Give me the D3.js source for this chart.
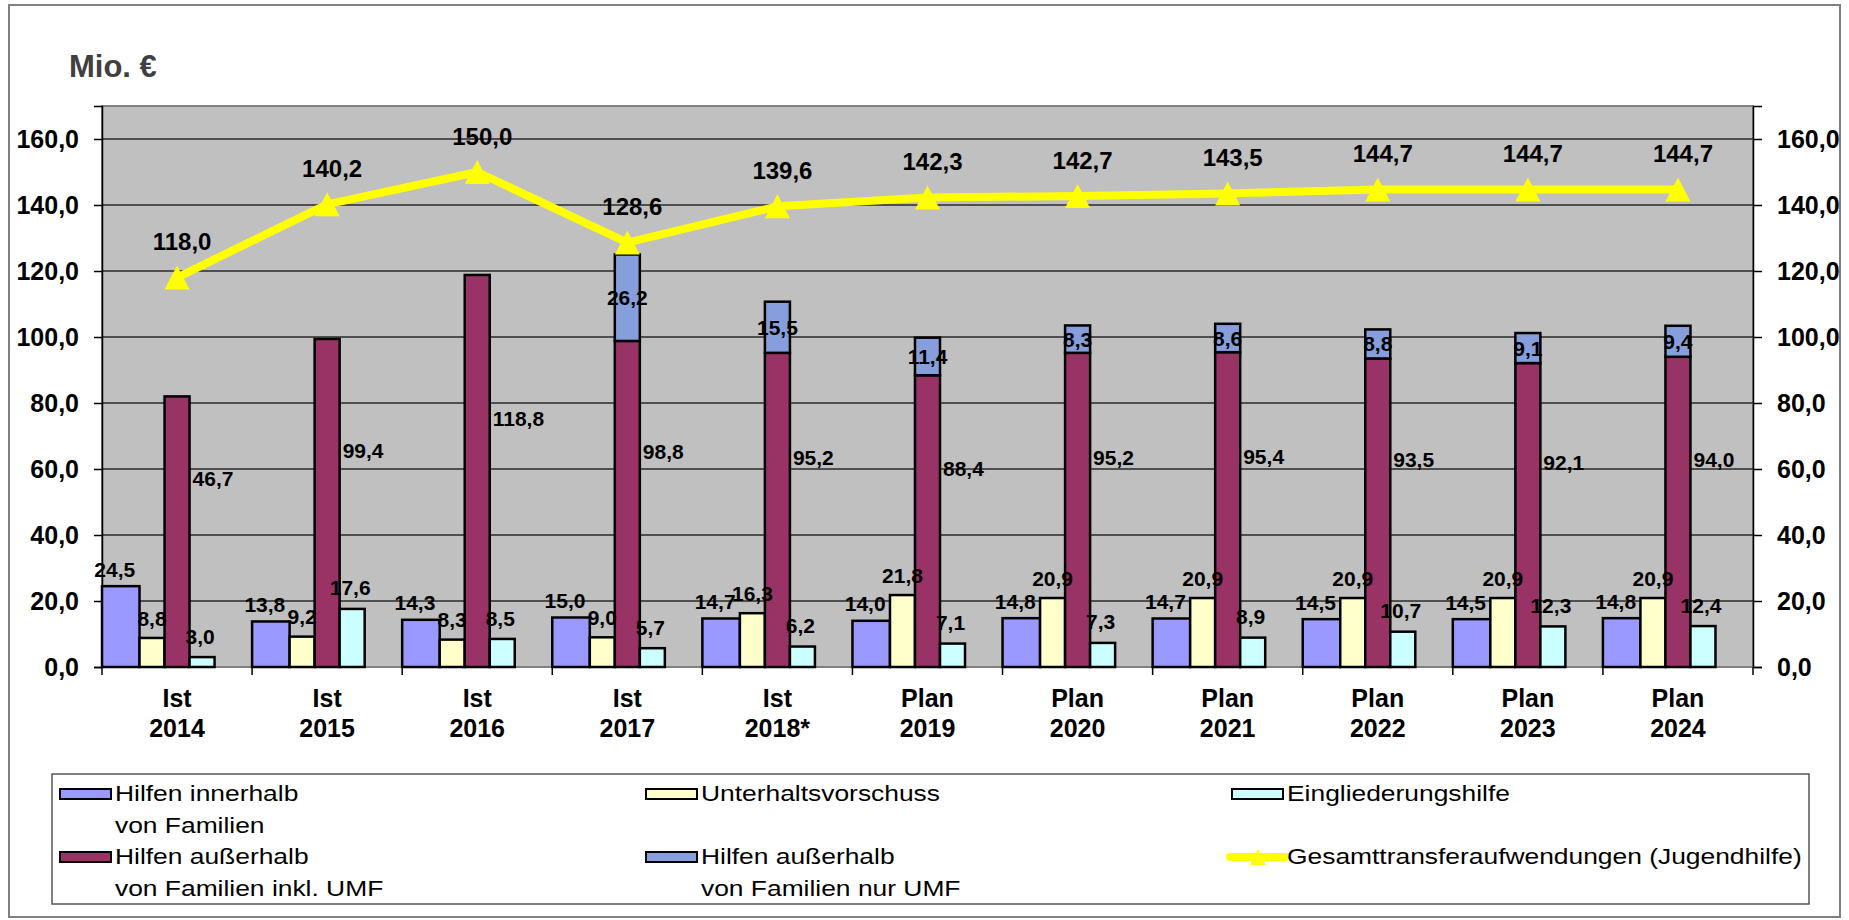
<!DOCTYPE html>
<html>
<head>
<meta charset="utf-8">
<script src="https://cdnjs.cloudflare.com/ajax/libs/d3/7.8.5/d3.min.js"></script>
<style>
  body { margin: 0; background: #fff; }
  svg text { font-family: "Liberation Sans", Arial, sans-serif; }
</style>
</head>
<body>
<div id="chart"></div>
<script>

// Kategorien
var catTop = ['Ist', 'Ist', 'Ist', 'Ist', 'Ist', 'Plan', 'Plan', 'Plan', 'Plan', 'Plan', 'Plan'];
var catYear = ['2014', '2015', '2016', '2017', '2018*', '2019', '2020', '2021', '2022', '2023', '2024'];

// Werte in Mio. €
var innerhalb     = [24.5, 13.8, 14.3, 15.0, 14.7, 14.0, 14.8, 14.7, 14.5, 14.5, 14.8];
var unterhalt     = [8.8, 9.2, 8.3, 9.0, 16.3, 21.8, 20.9, 20.9, 20.9, 20.9, 20.9];
var ausserhalb    = [82.0, 99.4, 118.8, 98.8, 95.2, 88.4, 95.2, 95.4, 93.5, 92.1, 94.0];
var ausserhalbTxt = [46.7, 99.4, 118.8, 98.8, 95.2, 88.4, 95.2, 95.4, 93.5, 92.1, 94.0];
var nurUmf        = [0, 0, 0, 26.2, 15.5, 11.4, 8.3, 8.6, 8.8, 9.1, 9.4];
var eingliederung = [3.0, 17.6, 8.5, 5.7, 6.2, 7.1, 7.3, 8.9, 10.7, 12.3, 12.4];
var gesamt        = [118.0, 140.2, 150.0, 128.6, 139.6, 142.3, 142.7, 143.5, 144.7, 144.7, 144.7];

var yTicks = [0, 20, 40, 60, 80, 100, 120, 140, 160];

var legendItems = [
    { lines: ['Hilfen innerhalb', 'von Familien'], fill: '#9999ff' }
  , { lines: ['Unterhaltsvorschuss'], fill: '#ffffcc' }
  , { lines: ['Eingliederungshilfe'], fill: '#ccffff' }
  , { lines: ['Hilfen außerhalb', 'von Familien inkl. UMF'], fill: '#993366' }
  , { lines: ['Hilfen außerhalb', 'von Familien nur UMF'], fill: '#869edb' }
  , { lines: ['Gesamttransferaufwendungen (Jugendhilfe)'], line: true }
];


var width = 1849, height = 920;
var plot = { left: 102, right: 1753, top: 106, bottom: 667 };

var fmt = function(v) { return d3.format('.1f')(v).replace('.', ','); };

var svg = d3.select('#chart').append('svg')
    .attr('width', width)
    .attr('height', height);

// Rahmen
svg.append('rect')
    .attr('x', 9).attr('y', 5)
    .attr('width', 1831).attr('height', 912)
    .attr('fill', '#fff')
    .attr('stroke', '#808080')
    .attr('stroke-width', 2);

svg.append('text')
    .attr('x', 69).attr('y', 77)
    .attr('font-size', 31)
    .attr('font-weight', 'bold')
    .attr('fill', '#404040')
    .text('Mio. €');

var x = d3.scaleBand()
    .domain(catYear)
    .range([plot.left, plot.right])
    .padding(0);

var y = d3.scaleLinear()
    .domain([0, 170])
    .range([plot.bottom, plot.top]);

var bw = x.bandwidth();
var wide = bw / 4, narrow = bw / 6;

// Zeichenfläche
svg.append('rect')
    .attr('x', plot.left).attr('y', plot.top)
    .attr('width', plot.right - plot.left)
    .attr('height', plot.bottom - plot.top)
    .attr('fill', '#c0c0c0')
    .attr('stroke', '#808080')
    .attr('stroke-width', 2);

svg.append('g').selectAll('line')
    .data(yTicks.filter(function(d) { return d > 0; }))
  .enter().append('line')
    .attr('x1', plot.left).attr('x2', plot.right)
    .attr('y1', function(d) { return y(d); })
    .attr('y2', function(d) { return y(d); })
    .attr('stroke', '#2a2a2a')
    .attr('stroke-width', 1.5);

// Achsen
var left = svg.append('g')
    .attr('transform', 'translate(' + plot.left + ',0)')
    .call(d3.axisLeft(y).tickValues(yTicks).tickSize(8).tickPadding(15).tickFormat(fmt));

var right = svg.append('g')
    .attr('transform', 'translate(' + plot.right + ',0)')
    .call(d3.axisRight(y).tickValues(yTicks).tickSize(9).tickPadding(15).tickFormat(fmt));

[left, right].forEach(function(ax) {
  ax.select('.domain').attr('stroke', '#000').attr('stroke-width', 1.5);
  ax.selectAll('.tick line').attr('stroke', '#000').attr('stroke-width', 1.5);
  ax.selectAll('.tick text')
      .attr('font-size', 25)
      .attr('font-weight', 'bold')
      .attr('fill', '#000')
      .style('font-family', '"Liberation Sans", Arial, sans-serif');
});

var xTicks = d3.range(catYear.length + 1);

svg.append('g').selectAll('line')
    .data(xTicks)
  .enter().append('line')
    .attr('x1', function(i) { return plot.left + i * x.step(); })
    .attr('x2', function(i) { return plot.left + i * x.step(); })
    .attr('y1', plot.bottom)
    .attr('y2', plot.bottom + 8)
    .attr('stroke', '#000')
    .attr('stroke-width', 1.5);

var catLabels = svg.append('g').selectAll('text')
    .data(catYear)
  .enter().append('text')
    .attr('text-anchor', 'middle')
    .attr('font-size', 25)
    .attr('font-weight', 'bold');

catLabels.append('tspan')
    .attr('x', function(d) { return x(d) + bw / 2; })
    .attr('y', 707)
    .text(function(d, i) { return catTop[i]; });

catLabels.append('tspan')
    .attr('x', function(d) { return x(d) + bw / 2; })
    .attr('y', 737)
    .text(function(d) { return d; });

// Säulen
var series = [
    { values: innerhalb, fill: '#9999ff', off: 0, w: wide }
  , { values: unterhalt, fill: '#ffffcc', off: wide, w: narrow }
  , { values: ausserhalb, fill: '#993366', off: wide + narrow, w: narrow }
  , { values: eingliederung, fill: '#ccffff', off: wide + 2 * narrow, w: narrow }
];

var bars = svg.append('g');

series.forEach(function(s) {
  bars.selectAll(null)
      .data(s.values)
    .enter().append('rect')
      .attr('x', function(d, i) { return x(catYear[i]) + s.off; })
      .attr('y', function(d) { return y(d); })
      .attr('width', s.w)
      .attr('height', function(d) { return y(0) - y(d); })
      .attr('fill', s.fill)
      .attr('stroke', '#000')
      .attr('stroke-width', 2.5);
});

// UMF gestapelt auf "außerhalb"
var umf = nurUmf
    .map(function(d, i) { return { v: d, base: ausserhalb[i], cat: catYear[i] }; })
    .filter(function(d) { return d.v > 0; });

bars.selectAll(null)
    .data(umf)
  .enter().append('rect')
    .attr('x', function(d) { return x(d.cat) + wide + narrow; })
    .attr('y', function(d) { return y(d.base + d.v); })
    .attr('width', narrow)
    .attr('height', function(d) { return y(d.base) - y(d.base + d.v); })
    .attr('fill', '#869edb')
    .attr('stroke', '#000')
    .attr('stroke-width', 2.5);

// Linie Gesamt
var cx = function(i) { return x(catYear[i]) + bw / 2; };

var line = d3.line()
    .x(function(d, i) { return cx(i); })
    .y(function(d) { return y(d); });

svg.append('path')
    .datum(gesamt)
    .attr('d', line)
    .attr('fill', 'none')
    .attr('stroke', '#ffff00')
    .attr('stroke-width', 8)
    .attr('stroke-linejoin', 'round');

var tri = 'M0,-12L12.5,12L-12.5,12Z';

svg.append('g').selectAll('path')
    .data(gesamt)
  .enter().append('path')
    .attr('d', tri)
    .attr('transform', function(d, i) { return 'translate(' + cx(i) + ',' + y(d) + ')'; })
    .attr('fill', '#ffff00');

// Beschriftungen
var labels = svg.append('g')
    .attr('font-weight', 'bold')
    .attr('text-anchor', 'middle');

function addLabels(values, fx, fy, size, anchor, txt) {
  labels.selectAll(null)
      .data(values)
    .enter().append('text')
      .attr('x', fx)
      .attr('y', fy)
      .attr('dy', '0.36em')
      .attr('font-size', size)
      .attr('text-anchor', anchor || 'middle')
      .text(function(d, i) { return fmt(txt ? txt[i] : d); });
}

addLabels(innerhalb,
  function(d, i) { return x(catYear[i]) + wide / 2 - 6; },
  function(d) { return y(d) - 17; }, 21);

addLabels(unterhalt,
  function(d, i) { return x(catYear[i]) + wide + narrow / 2; },
  function(d) { return y(d) - 20; }, 21);

addLabels(eingliederung,
  function(d, i) { return x(catYear[i]) + wide + 2.5 * narrow - 2; },
  function(d) { return y(d) - 21; }, 21);

addLabels(ausserhalb,
  function(d, i) { return x(catYear[i]) + wide + 2 * narrow + 3; },
  function(d) { return y(d / 2 + 16); }, 21, 'start', ausserhalbTxt);

labels.selectAll(null)
    .data(umf)
  .enter().append('text')
    .attr('x', function(d) { return x(d.cat) + wide + 1.5 * narrow; })
    .attr('y', function(d) { return y(d.base + d.v / 2); })
    .attr('dy', '0.36em')
    .attr('font-size', 21)
    .text(function(d) { return fmt(d.v); });

addLabels(gesamt,
  function(d, i) { return cx(i) + 5; },
  function(d) { return y(d) - 36; }, 24);

// Legende
var lg = { x: 52, y: 774, w: 1757, h: 130, col: 586 };

var legend = svg.append('g');

legend.append('rect')
    .attr('x', lg.x).attr('y', lg.y)
    .attr('width', lg.w).attr('height', lg.h)
    .attr('fill', '#fff')
    .attr('stroke', '#555')
    .attr('stroke-width', 1.5);

legendItems.forEach(function(item, k) {
  var col = k % 3, row = Math.floor(k / 3);
  var sx = lg.x + 8 + col * lg.col;
  var sy = lg.y + 20 + row * 63;
  var g = legend.append('g');

  if (item.line) {
    g.append('line')
        .attr('x1', sx - 2).attr('x2', sx + 53)
        .attr('y1', sy).attr('y2', sy)
        .attr('stroke', '#ffff00')
        .attr('stroke-width', 8)
        .attr('stroke-linecap', 'round');
    g.append('path')
        .attr('d', 'M0,-8L8,8L-8,8Z')
        .attr('transform', 'translate(' + (sx + 26) + ',' + sy + ')')
        .attr('fill', '#ffff00');
  } else {
    g.append('rect')
        .attr('x', sx).attr('y', sy - 5)
        .attr('width', 51).attr('height', 10)
        .attr('fill', item.fill)
        .attr('stroke', '#000')
        .attr('stroke-width', 2);
  }

  item.lines.forEach(function(t, j) {
    g.append('text')
        .attr('transform', 'translate(' + (sx + 55) + ',' + (sy + 7 + j * 32) + ') scale(1.2,1)')
        .attr('font-size', 22)
        .attr('fill', '#000')
        .text(t);
  });
});

</script>
</body>
</html>
